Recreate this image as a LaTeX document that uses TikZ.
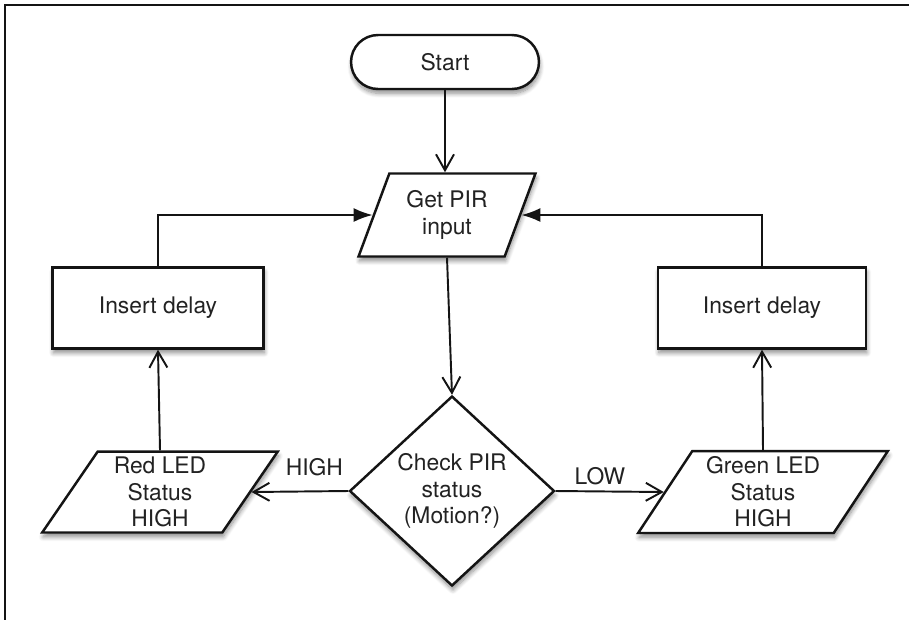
\documentclass[tikz,border=0pt]{standalone}
\usepackage{fontspec}
\setmainfont{TeX Gyre Heros}
\usepackage{xcolor}
\usepackage{tikz}
\usetikzlibrary{arrows.meta,shapes.geometric,shapes.misc,shadows.blur}
\definecolor{border}{HTML}{141414}
\definecolor{text}{HTML}{222222}

\tikzset{
  block/.style={draw=border, line width=1.4pt, fill=white, text=text, align=center,
    font=\fontsize{13pt}{15pt}\selectfont, inner sep=2pt,
    blur shadow={shadow xshift=0.5pt, shadow yshift=-2.5pt, shadow blur steps=8,
      shadow blur radius=2.5pt, shadow opacity=45}},
  iobox/.style={block, trapezium, trapezium stretches=true},
  flow/.style={draw=border, line width=1.1pt, -{Straight Barb[length=3.2mm, width=3.6mm]}},
  back/.style={draw=border, line width=1.1pt, -{Latex[length=3.8mm, width=2.8mm]}},
  lbl/.style={text=text, font=\fontsize{13pt}{15pt}\selectfont, inner sep=0pt}
}

\begin{document}
\begin{tikzpicture}[x=0.02cm, y=-0.02cm]
  \useasboundingbox (0,0) rectangle (909,620);
  \draw[border, line width=1.3pt] (909,5) -- (5,5) -- (5,620);

  \node[block, rounded rectangle, minimum width=3.9cm, minimum height=1.08cm] (start) at (445,62) {Start};
  \node[iobox, trapezium left angle=67, trapezium right angle=113,
        minimum width=3.54cm, minimum height=1.66cm] (getpir) at (447,215) {Get PIR\\input};
  \node[block, diamond, minimum width=4.1cm, minimum height=3.8cm, inner sep=0pt] (check) at (452,491)
        {Check PIR\\status\\(Motion?)};
  \node[iobox, trapezium left angle=60, trapezium right angle=120,
        minimum width=4.72cm, minimum height=1.62cm] (redled) at (160,492) {Red LED\\Status\\HIGH};
  \node[iobox, trapezium left angle=59, trapezium right angle=121,
        minimum width=5cm, minimum height=1.64cm] (greenled) at (763,492) {Green LED\\Status\\HIGH};
  \node[block, minimum width=4.22cm, minimum height=1.62cm] (delayL) at (158,308) {Insert delay};
  \node[block, minimum width=4.16cm, minimum height=1.62cm] (delayR) at (762,308) {Insert delay};

  \draw[flow] (start) -- (start |- getpir.north);
  \draw[flow] (getpir.south) -- (check.north);
  \draw[flow] (check.west) -- node[lbl, pos=0.35, above=8.5pt] {HIGH} (redled.east);
  \draw[flow] (check.east) -- node[lbl, pos=0.41, above=3pt] {LOW} (greenled.west);
  \draw[flow] (redled.center |- redled.north) -- (delayL.south);
  \draw[flow] (greenled.center |- greenled.north) -- (delayR.south);
  \draw[back] (delayL.north) |- (getpir.west);
  \draw[back] (delayR.north) |- (getpir.east);
\end{tikzpicture}
\end{document}
